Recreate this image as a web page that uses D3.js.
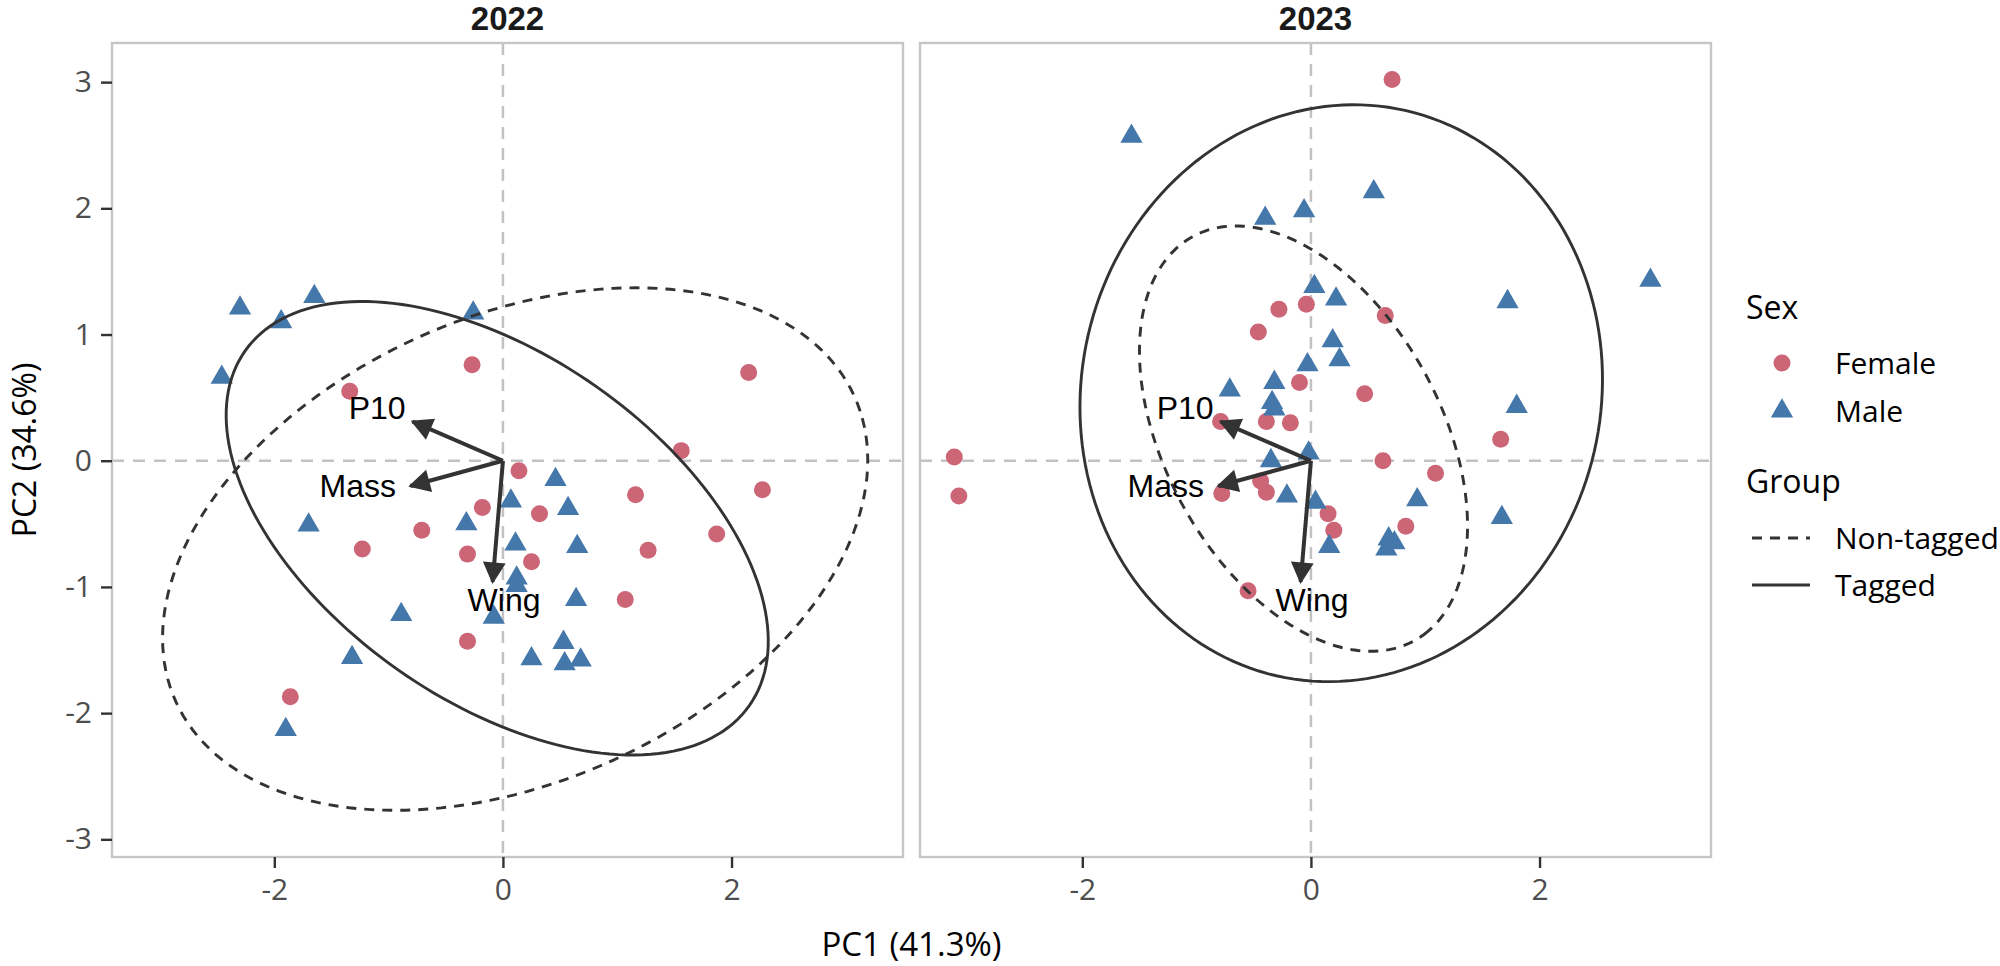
<!DOCTYPE html>
<html>
<head>
<meta charset="utf-8">
<script src="https://cdn.jsdelivr.net/npm/d3@7"></script>
<style>
  body { margin: 0; background: #ffffff; }
</style>
</head>
<body>
<div id="canvas"></div>
<script>
// ---- data ----
const years = ["2022", "2023"];

// PC scores [PC1, PC2]
const female2022 = [
  [-1.34, 0.55], [-0.27, 0.76], [1.56, 0.08], [0.14, -0.08], [1.16, -0.27],
  [-0.18, -0.37], [0.32, -0.42], [-0.71, -0.55], [1.87, -0.58], [-1.23, -0.70],
  [-0.31, -0.74], [1.27, -0.71], [0.25, -0.80], [1.07, -1.10], [-0.31, -1.43],
  [-1.86, -1.87], [2.15, 0.70], [2.27, -0.23]
];
const male2022 = [
  [-2.30, 1.21], [-1.65, 1.30], [-1.94, 1.10], [-0.26, 1.17], [-2.46, 0.66],
  [0.46, -0.15], [0.07, -0.32], [0.57, -0.38], [-1.70, -0.51], [-0.32, -0.50],
  [0.11, -0.66], [0.65, -0.68], [0.12, -0.93], [0.12, -0.99], [0.64, -1.10],
  [-0.89, -1.22], [-0.08, -1.24], [0.53, -1.44], [-1.32, -1.56], [0.25, -1.57],
  [0.68, -1.58], [0.54, -1.61], [-1.90, -2.13]
];
const female2023 = [
  [0.71, 3.02], [-0.04, 1.24], [-0.28, 1.20], [-0.46, 1.02], [0.65, 1.15],
  [-0.10, 0.62], [0.47, 0.53], [-0.79, 0.31], [-0.39, 0.31], [-0.18, 0.30],
  [1.66, 0.17], [0.63, 0.00], [1.09, -0.10], [-3.12, 0.03], [-3.08, -0.28],
  [-0.44, -0.16], [-0.39, -0.25], [-0.78, -0.26], [0.15, -0.42], [0.83, -0.52],
  [0.20, -0.55], [-0.55, -1.03]
];
const male2023 = [
  [-1.57, 2.57], [0.55, 2.13], [-0.40, 1.92], [-0.06, 1.98], [2.97, 1.43],
  [1.72, 1.26], [0.03, 1.38], [0.22, 1.28], [0.19, 0.95], [0.25, 0.80],
  [-0.03, 0.76], [-0.71, 0.56], [-0.32, 0.62], [-0.34, 0.46], [-0.32, 0.41],
  [1.80, 0.43], [-0.02, 0.06], [-0.35, 0.00], [-0.21, -0.28], [0.04, -0.33],
  [0.93, -0.31], [1.67, -0.45], [0.16, -0.68], [0.68, -0.62], [0.73, -0.65],
  [0.66, -0.70]
];

// loadings (arrow tips) and their label positions
const loadingNames = ["P10", "Mass", "Wing"];
const loadingX = [-0.79, -0.81, -0.09];
const loadingY = [0.31, -0.20, -0.96];
const labelX = [-1.10, -1.27, 0.01];
const labelY = [0.42, -0.20, -1.10];

// 95% ellipses: centre, semi-axes, rotation (deg)
const groups = ["Non-tagged", "Tagged"];
const ellipse2022 = [
  { group: "Non-tagged", cx: 0.107, cy: -0.70, a: 3.21, b: 1.87, rot: 19.9 },
  { group: "Tagged", cx: -0.05, cy: -0.535, a: 2.62, b: 1.41, rot: -30.3 }
];
const ellipse2023 = [
  { group: "Non-tagged", cx: -0.065, cy: 0.175, a: 1.876, b: 1.175, rot: -55.7 },
  { group: "Tagged", cx: 0.265, cy: 0.535, a: 2.34, b: 2.23, rot: 45 }
];

const xTicks = [-2, 0, 2];
const yTicks = [-3, -2, -1, 0, 1, 2, 3];
const sexes = ["Female", "Male"];
const xTitle = "PC1 (41.3%)";
const yTitle = "PC2 (34.6%)";

// ---- drawing ----
const sexColor = { Female: "#CC6677", Male: "#4477AA" };
const sexShape = { Female: d3.symbolCircle, Male: d3.symbolTriangle };
const sexSize = { Female: 227, Male: 215 };
const groupDash = { "Non-tagged": "10,8", Tagged: null };

const svg = d3
  .select("#canvas")
  .append("svg")
  .attr("width", 2000)
  .attr("height", 966)
  .style("background", "#ffffff");

const panelTop = 43, panelBottom = 857, panelW = 791;
const panelLeft = [112, 920];

const y = d3.scaleLinear().domain([-3.14, 3.31]).range([panelBottom, panelTop]);

const defs = svg.append("defs");
defs.append("marker")
  .attr("id", "head")
  .attr("markerUnits", "userSpaceOnUse")
  .attr("viewBox", "-22 -12 24 24")
  .attr("refX", 0)
  .attr("refY", 0)
  .attr("markerWidth", 24)
  .attr("markerHeight", 24)
  .attr("orient", "auto")
  .append("path")
  .attr("d", "M0,0 L-18.5,-9.8 L-18.5,9.8 Z")
  .attr("fill", "#333333")
  .attr("stroke", "#333333")
  .attr("stroke-width", 2)
  .attr("stroke-linejoin", "miter");

function ellipsePoints(e) {
  const th = (e.rot * Math.PI) / 180;
  return d3.range(0, 361, 2).map((deg) => {
    const t = (deg * Math.PI) / 180;
    return [
      e.cx + e.a * Math.cos(t) * Math.cos(th) - e.b * Math.sin(t) * Math.sin(th),
      e.cy + e.a * Math.cos(t) * Math.sin(th) + e.b * Math.sin(t) * Math.cos(th)
    ];
  });
}

const panels = [
  { year: years[0], female: female2022, male: male2022, ellipses: ellipse2022 },
  { year: years[1], female: female2023, male: male2023, ellipses: ellipse2023 }
];

panels.forEach((p, i) => {
  const left = panelLeft[i];
  const x = d3.scaleLinear().domain([-3.42, 3.50]).range([left, left + panelW]);
  const g = svg.append("g");

  defs.append("clipPath").attr("id", "clip" + i)
    .append("rect")
    .attr("x", left).attr("y", panelTop)
    .attr("width", panelW).attr("height", panelBottom - panelTop);

  const plot = g.append("g").attr("clip-path", `url(#clip${i})`);

  // reference lines at 0
  plot.append("line")
    .attr("x1", x(0)).attr("x2", x(0))
    .attr("y1", panelTop).attr("y2", panelBottom)
    .attr("stroke", "#c2c2c2").attr("stroke-width", 2.5)
    .attr("stroke-dasharray", "12,9");
  plot.append("line")
    .attr("x1", left).attr("x2", left + panelW)
    .attr("y1", y(0)).attr("y2", y(0))
    .attr("stroke", "#c2c2c2").attr("stroke-width", 2.5)
    .attr("stroke-dasharray", "12,9");

  // points
  const pts = p.female.map((d) => ({ sex: "Female", pc1: d[0], pc2: d[1] }))
    .concat(p.male.map((d) => ({ sex: "Male", pc1: d[0], pc2: d[1] })));
  plot.selectAll(".pt")
    .data(pts)
    .join("path")
    .attr("class", "pt")
    .attr("transform", (d) => `translate(${x(d.pc1)},${y(d.pc2)})`)
    .attr("d", (d) => d3.symbol(sexShape[d.sex], sexSize[d.sex])())
    .attr("fill", (d) => sexColor[d.sex]);

  // ellipses
  const line = d3.line().x((d) => x(d[0])).y((d) => y(d[1])).curve(d3.curveLinearClosed);
  plot.selectAll(".ell")
    .data(p.ellipses)
    .join("path")
    .attr("class", "ell")
    .attr("d", (e) => line(ellipsePoints(e)))
    .attr("fill", "none")
    .attr("stroke", "#333333")
    .attr("stroke-width", 2.9)
    .attr("stroke-dasharray", (e) => groupDash[e.group]);

  // loading arrows
  plot.selectAll(".arrow")
    .data(loadingNames)
    .join("line")
    .attr("class", "arrow")
    .attr("x1", x(0)).attr("y1", y(0))
    .attr("x2", (d, k) => x(loadingX[k]))
    .attr("y2", (d, k) => y(loadingY[k]))
    .attr("stroke", "#333333")
    .attr("stroke-width", 4)
    .attr("marker-end", "url(#head)");

  plot.selectAll(".lab")
    .data(loadingNames)
    .join("text")
    .attr("class", "lab")
    .attr("x", (d, k) => x(labelX[k]))
    .attr("y", (d, k) => y(labelY[k]))
    .attr("text-anchor", "middle")
    .attr("dy", "0.36em")
    .style("font-family", "'Liberation Sans', Arial, sans-serif")
    .style("font-size", "32px")
    .attr("fill", "#000000")
    .text((d) => d);

  // panel border
  g.append("rect")
    .attr("x", left).attr("y", panelTop)
    .attr("width", panelW).attr("height", panelBottom - panelTop)
    .attr("fill", "none")
    .attr("stroke", "#c6c6c6")
    .attr("stroke-width", 2.4);

  // strip title
  g.append("text")
    .attr("x", left + panelW / 2)
    .attr("y", 30)
    .attr("text-anchor", "middle")
    .style("font-family", "'Liberation Sans', Arial, sans-serif")
    .style("font-weight", "bold")
    .style("font-size", "33px")
    .attr("fill", "#1a1a1a")
    .text(p.year);

  // x axis
  const xAxis = g.append("g")
    .attr("transform", `translate(0,${panelBottom})`)
    .call(d3.axisBottom(x).tickValues(xTicks).tickSize(11).tickPadding(11).tickFormat((d) => String(d)));
  styleAxis(xAxis);

  if (i === 0) {
    const yAxis = g.append("g")
      .attr("transform", `translate(${left},0)`)
      .call(d3.axisLeft(y).tickValues(yTicks).tickSize(11).tickPadding(9).tickFormat((d) => String(d)));
    styleAxis(yAxis);
  }
});

function styleAxis(ax) {
  ax.select(".domain").remove();
  ax.selectAll(".tick line").attr("stroke", "#333333").attr("stroke-width", 2.4);
  ax.selectAll(".tick text")
    .attr("fill", "#4d4d4d")
    .style("font-family", "'Open Sans', sans-serif")
    .style("font-size", "30px");
}

// axis titles
svg.append("text")
  .attr("x", (panelLeft[0] + panelLeft[1] + panelW) / 2)
  .attr("y", 956)
  .attr("text-anchor", "middle")
  .style("font-family", "'Open Sans', sans-serif")
  .style("font-size", "33px")
  .attr("fill", "#000000")
  .text(xTitle);

svg.append("text")
  .attr("transform", `translate(36,${(panelTop + panelBottom) / 2}) rotate(-90)`)
  .attr("text-anchor", "middle")
  .style("font-family", "'Open Sans', sans-serif")
  .style("font-size", "32px")
  .attr("fill", "#000000")
  .text(yTitle);

// legends
const legend = svg.append("g").style("font-family", "'Open Sans', sans-serif");
legend.append("text").attr("x", 1746).attr("y", 319)
  .style("font-size", "32px").attr("fill", "#000").text("Sex");
sexes.forEach((s, k) => {
  const cy = 363 + k * 48;
  legend.append("path")
    .attr("transform", `translate(1782,${cy})`)
    .attr("d", d3.symbol(sexShape[s], sexSize[s])())
    .attr("fill", sexColor[s]);
  legend.append("text").attr("x", 1835).attr("y", cy + 11)
    .style("font-size", "30px").attr("fill", "#000").text(s);
});
legend.append("text").attr("x", 1746).attr("y", 493)
  .style("font-size", "32px").attr("fill", "#000").text("Group");
groups.forEach((gname, k) => {
  const cy = 538 + k * 47;
  legend.append("line")
    .attr("x1", 1752).attr("x2", 1810)
    .attr("y1", cy).attr("y2", cy)
    .attr("stroke", "#333333").attr("stroke-width", 2.8)
    .attr("stroke-dasharray", groupDash[gname]);
  legend.append("text").attr("x", 1835).attr("y", cy + 11)
    .style("font-size", "30px").attr("fill", "#000").text(gname);
});
</script>
</body>
</html>
